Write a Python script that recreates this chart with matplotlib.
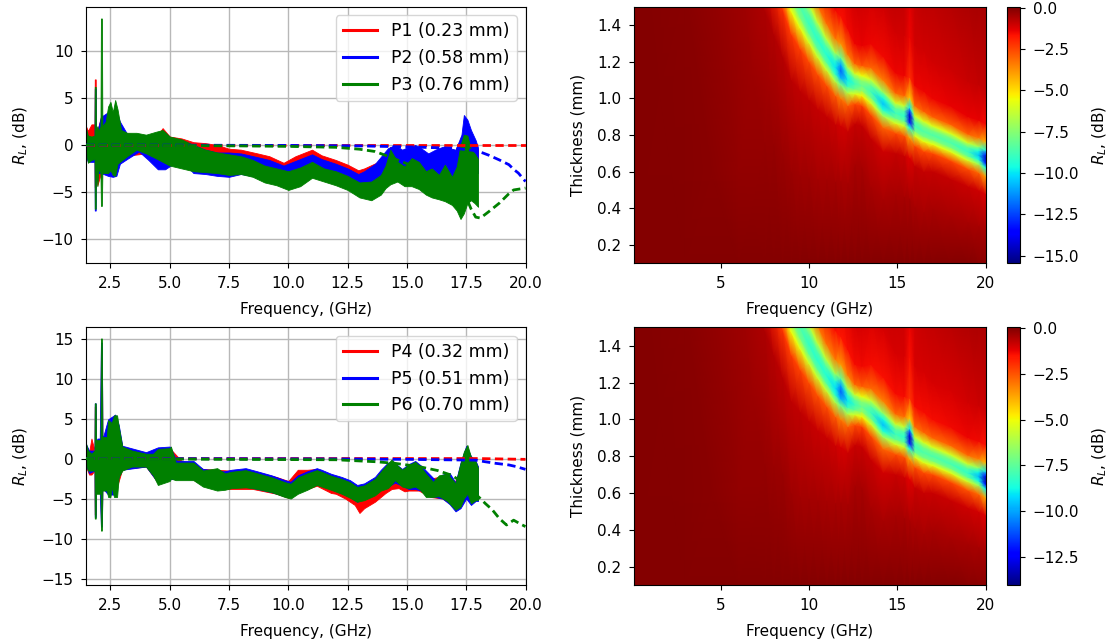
import numpy as np
import matplotlib
matplotlib.use("Agg")
import matplotlib.pyplot as plt
from matplotlib.lines import Line2D

plt.rcParams['font.family'] = ['DejaVu Sans']
plt.rcParams['font.size'] = 11
plt.rcParams['xtick.major.pad'] = 5.5
plt.rcParams['ytick.major.pad'] = 5.5
plt.rcParams['axes.labelpad'] = 8.3

# ---------------- measured RL, noise envelope (upper / lower edge), dB ----------------
# top panel
p1_f = [1.47,1.55,1.7,1.83,1.84,1.88,1.89,1.95,2.1,2.4,2.8,3.0,4.0,4.5,4.7,5.0,5.5,6.0,6.5,7.0,
        7.5,8.0,8.7,9.2,9.8,10.3,11.0,11.4,12.0,12.5,12.95,13.2,13.8,14.1,14.3,14.6,15.0,16.0,17.0,17.4,17.7,18.0]
p1_hi = [2.0,1.5,2.2,2.2,7.0,7.0,2.0,1.5,3.0,3.0,3.0,1.3,1.0,1.1,1.8,0.9,0.7,0.3,0.2,0.0,
         -0.4,-0.5,-0.9,-1.2,-1.9,-1.2,-0.5,-1.1,-1.6,-2.1,-2.7,-2.5,-1.8,-0.9,-0.2,-0.6,-0.8,-1.0,-1.0,1.5,0.5,-0.5]
p1_lo = [-0.5,-1.5,-1.4,-1.4,-4.5,-4.5,-2.0,-4.3,-3.0,-3.0,-2.0,-1.2,-0.9,-1.0,-1.2,-1.2,-1.5,-1.6,-1.5,-1.7,
         -2.0,-2.1,-2.4,-2.8,-3.2,-2.8,-2.2,-2.5,-3.0,-3.5,-4.0,-4.0,-3.3,-2.6,-2.2,-2.4,-2.8,-3.0,-3.2,-4.0,-3.0,-3.0]

p2_f = [1.47,1.55,1.83,1.84,1.88,1.89,1.95,2.1,2.4,2.6,2.75,2.9,3.2,3.7,4.1,4.5,4.8,5.1,5.7,6.0,
        6.5,7.0,7.5,8.0,8.7,9.2,9.8,10.3,11.0,11.4,12.0,12.5,12.95,13.2,13.66,14.2,14.5,14.8,15.07,15.35,
        15.6,15.9,16.2,16.5,16.8,17.05,17.3,17.4,17.55,17.7,17.9,18.0]
p2_hi = [1.5,0.8,0.8,6.0,6.0,1.5,1.5,3.0,3.5,3.5,3.5,2.5,1.2,1.0,1.0,1.2,1.3,0.6,0.3,0.0,
         -0.5,-0.8,-0.8,-0.9,-1.3,-1.6,-2.2,-1.7,-1.0,-1.5,-2.0,-2.5,-3.1,-2.8,-2.0,-0.35,0.0,-0.5,-0.2,0.0,
         -0.35,-0.9,-0.5,-0.2,-0.35,-0.5,1.1,3.2,2.7,1.6,0.5,-0.3]
p2_lo = [-1.2,-1.8,-1.8,-7.0,-7.0,-2.0,-3.0,-3.0,-3.3,-3.4,-3.3,-2.0,-1.5,-0.7,-1.6,-2.6,-2.6,-2.1,-2.2,-3.0,
         -3.1,-3.3,-3.4,-3.1,-3.4,-3.6,-4.0,-3.8,-3.0,-3.3,-3.8,-4.2,-4.6,-4.6,-4.0,-3.0,-2.8,-3.0,-3.0,-3.2,
         -3.4,-3.4,-3.6,-3.9,-3.9,-4.0,-4.5,-4.5,-4.0,-3.5,-3.0,-3.0]

p3_f = [1.47,1.55,1.7,1.83,1.84,1.88,1.89,1.95,2.0,2.08,2.1,2.14,2.16,2.3,2.4,2.5,2.6,2.7,2.8,2.95,
        3.2,3.6,4.0,4.4,4.7,5.0,5.5,6.0,6.5,7.0,7.5,8.0,8.5,9.0,9.5,10.0,10.5,11.0,11.5,12.0,
        12.5,13.0,13.5,13.9,14.1,14.3,14.6,14.9,15.2,15.5,15.8,16.05,16.35,16.6,16.9,17.1,17.26,17.4,17.55,17.7,
        17.85,18.0]
p3_hi = [1.8,1.0,0.9,1.0,6.2,6.2,1.5,2.0,1.5,2.0,13.5,13.5,2.0,2.5,4.1,4.6,3.5,4.8,3.8,1.6,
         1.3,1.3,1.1,1.4,1.6,0.9,0.6,0.0,-0.5,-0.8,-1.0,-1.2,-1.6,-2.2,-2.5,-2.8,-2.4,-1.8,-2.5,-2.8,
         -3.3,-4.0,-3.9,-3.2,-2.2,-0.5,-1.8,-2.3,-1.4,-1.8,-2.8,-2.5,-3.2,-2.1,-3.4,-2.3,0.0,1.1,1.0,-0.5,
         -0.9,-1.5]
p3_lo = [-0.6,-1.9,-1.6,-1.5,-6.8,-6.8,-2.0,-4.4,-2.5,-3.0,-6.5,-6.5,-3.0,-3.0,-3.0,-2.7,-3.2,-3.3,-2.0,-1.7,
         -1.2,-0.5,-0.9,-1.4,-1.8,-2.2,-2.5,-2.8,-2.9,-3.0,-3.2,-3.1,-3.4,-4.0,-4.3,-4.8,-4.4,-3.5,-3.9,-4.3,
         -4.8,-5.6,-5.9,-5.3,-4.6,-4.2,-3.9,-4.4,-4.4,-4.7,-5.3,-5.6,-5.8,-6.0,-6.4,-7.0,-7.9,-7.3,-6.2,-5.9,
         -6.2,-6.6]

# bottom panel
p4_f = [1.47,1.6,1.7,1.83,1.84,1.88,1.89,1.95,2.08,2.1,2.14,2.16,2.2,2.7,3.0,4.0,4.5,5.0,5.5,5.9,
        6.4,7.5,8.5,9.5,10.0,10.4,10.8,11.2,11.8,12.0,12.4,12.8,13.0,13.2,13.65,14.1,14.36,14.65,14.9,15.07,
        15.5,16.0,16.5,17.0,17.5,18.0]
p4_hi = [1.5,0.8,2.5,1.0,6.5,6.5,2.0,2.2,2.2,14.0,14.0,2.5,2.5,5.0,1.5,0.7,1.2,1.3,-0.3,-0.6,
         -1.3,-1.5,-1.6,-2.3,-2.8,-1.4,-1.4,-1.3,-2.2,-2.4,-2.9,-3.5,-4.0,-3.8,-3.2,-2.0,-1.6,-1.8,-2.0,-2.0,
         -1.8,-2.5,-2.2,-3.0,0.0,-1.5]
p4_lo = [-1.0,-2.0,-2.0,-1.5,-7.0,-7.0,-2.0,-4.0,-4.0,-8.0,-8.0,-3.5,-3.5,-4.3,-1.3,-1.0,-3.0,-2.5,-2.5,-2.5,
         -3.3,-3.8,-3.8,-4.4,-4.9,-4.0,-3.8,-3.4,-4.3,-4.4,-5.0,-5.8,-6.8,-6.2,-5.4,-4.3,-3.8,-3.7,-4.1,-4.0,
         -4.0,-4.8,-5.0,-6.0,-5.0,-5.0]

p5_f = [1.47,1.6,1.83,1.84,1.88,1.89,1.95,2.05,2.1,2.14,2.16,2.2,2.4,2.7,2.85,3.0,4.0,4.5,5.0,5.3,
        6.0,6.4,7.3,7.6,8.2,8.7,9.3,9.85,10.1,10.4,10.8,11.2,11.4,11.8,12.25,12.6,12.9,13.2,13.65,13.9,
        14.2,14.5,14.8,15.07,15.35,15.6,15.9,16.2,16.5,16.8,17.05,17.26,17.5,17.7,17.9,18.0]
p5_hi = [1.8,1.0,1.0,6.9,6.9,2.0,2.5,2.5,14.5,14.5,2.8,2.8,4.9,5.5,4.2,1.6,0.8,1.4,1.5,-0.3,
         -0.3,-1.3,-1.6,-1.4,-1.2,-1.6,-2.1,-2.7,-2.9,-2.1,-1.6,-1.2,-1.4,-1.9,-2.3,-2.7,-3.3,-3.1,-2.3,-1.4,
         -0.5,-0.6,-1.3,-0.7,-0.3,-0.9,-1.8,-2.7,-2.0,-1.8,-3.0,-0.5,1.6,0.3,-0.3,-1.0]
p5_lo = [-0.8,-1.8,-1.5,-7.3,-7.3,-2.0,-4.2,-4.2,-8.5,-8.5,-3.8,-3.8,-4.5,-4.5,-2.2,-1.4,-1.0,-3.0,-2.6,-2.5,
         -2.6,-3.3,-3.7,-3.3,-3.5,-3.8,-4.2,-4.7,-4.8,-4.2,-3.7,-3.2,-3.3,-3.8,-4.3,-4.8,-5.4,-5.0,-4.4,-3.8,
         -3.5,-3.0,-3.4,-3.8,-3.8,-4.0,-4.6,-4.8,-5.0,-5.7,-6.6,-6.2,-5.0,-5.8,-5.3,-5.3]

p6_f = [1.47,1.55,1.7,1.83,1.84,1.88,1.89,1.92,2.05,2.08,2.1,2.14,2.16,2.35,2.4,2.5,2.55,2.65,2.78,2.85,
        3.0,3.4,4.0,4.3,4.5,5.0,5.05,5.25,6.0,6.4,7.0,7.33,7.6,8.2,8.7,9.3,9.85,10.1,10.4,10.8,
        11.2,11.4,11.8,12.25,12.6,12.9,13.2,13.65,13.9,14.2,14.36,14.5,14.8,15.07,15.35,15.56,15.8,16.1,16.35,16.7,
        17.05,17.26,17.4,17.55,17.7,17.9,18.0]
p6_hi = [1.9,1.0,0.6,1.0,6.9,6.9,2.3,2.3,2.3,2.3,15.0,15.0,2.7,2.7,4.8,4.6,4.4,5.4,5.4,4.0,
         1.5,1.0,0.6,0.6,1.2,1.3,1.5,-0.5,-0.5,-1.5,-1.2,-1.85,-1.65,-1.45,-1.85,-2.35,-2.95,-3.15,-2.35,-1.85,
         -1.45,-1.65,-2.15,-2.55,-2.95,-3.55,-3.35,-2.55,-1.65,-0.6,-0.1,-0.6,-1.4,-0.8,-0.4,-1.0,-1.9,-2.9,-2.1,-1.9,
         -3.1,-0.6,0.85,1.7,0.2,-0.4,-1.2]
p6_lo = [-0.5,-1.5,-1.5,-1.5,-7.5,-7.5,-4.4,-4.4,-4.4,-4.0,-9.0,-9.0,-4.0,-4.0,-4.8,-4.8,-3.5,-4.8,-4.8,-2.3,
         -1.5,-1.0,-1.0,-2.1,-3.3,-2.8,-2.5,-2.7,-2.7,-3.5,-4.0,-3.9,-3.7,-3.6,-3.8,-4.2,-4.8,-5.0,-4.4,-3.9,
         -3.3,-3.5,-3.9,-4.4,-4.9,-5.4,-5.2,-4.6,-4.0,-3.7,-3.2,-2.7,-3.5,-3.7,-3.5,-3.9,-4.8,-4.8,-4.7,-5.3,
         -6.4,-6.0,-5.0,-4.4,-5.6,-5.2,-5.2]

# ---------------- simulated RL (dashed), dB ----------------
s1_f = [1.47, 20.0]
s1 = [0.0, 0.0]
s2_f = [1.47, 10.0, 13.0, 15.0, 17.0, 17.9, 18.2, 18.46, 18.9, 19.3, 19.5, 19.7, 20.0]
s2 = [0.0, -0.05, -0.1, -0.2, -0.35, -0.6, -0.85, -1.1, -1.6, -2.1, -2.6, -3.0, -3.9]
s3_f = [1.47, 8.0, 10.0, 12.0, 13.0, 13.66, 14.2, 14.6, 15.0, 16.0, 17.0, 17.55, 17.7, 17.9, 18.1,
        18.46, 18.9, 19.3, 19.5, 20.0]
s3 = [0.0, -0.1, -0.15, -0.25, -0.45, -0.7, -1.2, -1.6, -2.0, -3.2, -4.8, -5.9, -6.8, -7.7, -7.8,
      -7.1, -6.2, -5.2, -4.8, -4.6]
s4_f = [1.47, 18.0, 20.0]
s4 = [0.0, 0.0, -0.1]
s5_f = [1.47, 12.0, 15.0, 17.9, 18.3, 18.75, 19.3, 19.6, 20.0]
s5 = [0.0, -0.05, -0.1, -0.2, -0.4, -0.6, -0.8, -1.0, -1.35]
s6_f = [1.47, 7.3, 12.0, 13.7, 14.5, 15.5, 16.3, 16.9, 17.5, 17.8, 18.1, 18.3, 18.6, 18.9, 19.2,
        19.5, 19.8, 20.0]
s6 = [0.0, -0.1, -0.15, -0.4, -0.6, -1.0, -1.5, -2.1, -3.3, -4.2, -5.0, -5.6, -6.4, -7.5, -8.3,
      -7.7, -8.2, -8.5]

labels_top = ["P1 (0.23 mm)", "P2 (0.58 mm)", "P3 (0.76 mm)"]
labels_bot = ["P4 (0.32 mm)", "P5 (0.51 mm)", "P6 (0.70 mm)"]

# ---------------- RL map (thickness x frequency) read along the absorption valley ----------------
heat_f   = [0.1, 3.0, 6.0, 7.5, 8.0, 8.5, 9.0, 9.5, 10.0, 10.5, 11.0, 11.5, 11.8, 12.2, 12.6, 13.0,
            13.5, 14.2, 14.9, 15.4, 15.7, 16.0, 16.5, 17.0, 18.0, 19.0, 19.6, 20.0]
ridge_mm = [6.0, 4.4, 3.0, 2.2, 1.95, 1.75, 1.6, 1.5, 1.41, 1.32, 1.24, 1.17, 1.15, 1.10, 1.08, 1.07,
            1.04, 0.97, 0.92, 0.905, 0.895, 0.85, 0.82, 0.80, 0.76, 0.71, 0.69, 0.67]
ridge_w  = [0.45, 0.35, 0.3, 0.18, 0.15, 0.13, 0.125, 0.115, 0.105, 0.095, 0.085, 0.078, 0.075, 0.07, 0.055, 0.055,
            0.065, 0.065, 0.055, 0.055, 0.055, 0.055, 0.055, 0.05, 0.05, 0.048, 0.048, 0.048]
rl1_ridge = [-1.0, -2.0, -4.0, -6.0, -7.5, -8.0, -8.3, -8.5, -9.0, -9.2, -9.3, -10.0, -12.0, -9.8, -8.8, -8.0,
             -8.8, -10.5, -8.8, -9.2, -14.5, -8.8, -8.5, -8.5, -8.6, -9.0, -10.5, -14.5]
rl2_ridge = [-1.0, -2.0, -3.7, -5.5, -6.9, -7.3, -7.6, -7.8, -8.3, -8.4, -8.5, -9.2, -11.0, -9.0, -8.1, -7.3,
             -8.1, -9.6, -8.1, -8.4, -13.2, -8.1, -7.8, -7.8, -7.9, -8.3, -9.7, -13.5]
rl_below = [-0.05, -0.1, -0.2, -0.27, -0.3, -0.33, -0.36, -0.4, -0.42, -0.44, -0.46, -0.48, -0.5, -0.5, -0.5, -0.5,
            -0.5, -0.5, -0.5, -0.5, -0.55, -0.5, -0.5, -0.5, -0.5, -0.5, -0.5, -0.5]
rl_above = [-0.2, -0.3, -0.5, -0.7, -0.8, -0.9, -1.0, -1.05, -1.05, -1.05, -1.05, -1.05, -1.05, -1.05, -1.05, -1.05,
            -1.05, -1.05, -1.05, -1.05, -1.45, -1.05, -1.05, -1.05, -1.0, -0.95, -0.9, -0.9]
rl_floor = [-0.02, -0.025, -0.035, -0.04, -0.045, -0.05, -0.05, -0.05, -0.05, -0.05, -0.05, -0.05, -0.05, -0.05,
            -0.05, -0.05, -0.05, -0.05, -0.05, -0.05, -0.05, -0.05, -0.05, -0.05, -0.06, -0.07, -0.08, -0.08]
rl_ceil  = [-0.1, -0.15, -0.3, -0.45, -0.5, -0.6, -0.7, -0.8, -0.85, -0.9, -0.9, -0.9, -0.9, -0.9, -0.9, -0.9,
            -0.9, -0.9, -0.9, -0.95, -1.3, -0.95, -0.85, -0.8, -0.7, -0.6, -0.55, -0.55]
dip_k    = [-8, -4, -2, -1, -0.5, 0, 0.5, 1, 2, 4, 8]          # offset from valley, in widths
dip_frac = [0.0, 0.05, 0.25, 0.65, 0.9, 1.0, 0.9, 0.65, 0.25, 0.05, 0.0]

# ---------------- figure ----------------
W, H = 1113, 644
fig = plt.figure(figsize=(W / 100, H / 100), dpi=100)


def add_ax(x0, y0, x1, y1):
    return fig.add_axes([x0 / W, 1 - y1 / H, (x1 - x0) / W, (y1 - y0) / H])


def line_panel(ax, series, sims, labels, ylim, yticks):
    cols = ['red', 'blue', 'green']
    for (f, hi, lo), (sf, sv), c in zip(series, sims, cols):
        ax.fill_between(f, lo, hi, color=c, lw=0.6, edgecolor=c, zorder=2)
        ax.plot(sf, sv, '--', color=c, lw=2, dashes=(3, 1.6), zorder=3)
    ax.set_xlim(1.47, 20)
    ax.set_ylim(*ylim)
    ax.set_xticks([2.5, 5.0, 7.5, 10.0, 12.5, 15.0, 17.5, 20.0])
    ax.set_yticks(yticks)
    ax.grid(True, color='#b8b8b8', lw=1.0)
    ax.set_axisbelow(True)
    ax.set_xlabel("Frequency, (GHz)")
    ax.set_ylabel("$R_L$, (dB)")
    handles = [Line2D([], [], color=c, lw=2.2) for c in cols]
    ax.legend(handles, labels, loc='upper right', fontsize=12.5)


ax1 = add_ax(86, 6.7, 525.5, 263.3)
line_panel(ax1, [(p1_f, p1_hi, p1_lo), (p2_f, p2_hi, p2_lo), (p3_f, p3_hi, p3_lo)],
           [(s1_f, s1), (s2_f, s2), (s3_f, s3)], labels_top, (-12.63, 14.76), [-10, -5, 0, 5, 10])
ax2 = add_ax(86, 327.3, 525.5, 585)
line_panel(ax2, [(p4_f, p4_hi, p4_lo), (p5_f, p5_hi, p5_lo), (p6_f, p6_hi, p6_lo)],
           [(s4_f, s4), (s5_f, s5), (s6_f, s6)], labels_bot, (-15.8, 16.4), [-15, -10, -5, 0, 5, 10, 15])


def build_map(ridge_db):
    nc = len(heat_f)
    nr = len(dip_k) + 2
    X = np.tile(np.asarray(heat_f, float), (nr, 1))
    Y = np.zeros((nr, nc))
    C = np.zeros((nr, nc))
    for j in range(nc):
        Y[0, j] = 0.1
        C[0, j] = rl_floor[j]
        for i, (k, fr) in enumerate(zip(dip_k, dip_frac)):
            bg = rl_below[j] if k < 0 else rl_above[j]
            Y[i + 1, j] = ridge_mm[j] + k * ridge_w[j]
            C[i + 1, j] = bg + fr * (ridge_db[j] - bg)
        Y[-1, j] = max(Y[-2, j] + 0.05, 1.5)
        C[-1, j] = rl_ceil[j]
    return X, Y, C


def map_panel(ax, cax, ridge_db, vmin, cticks):
    X, Y, C = build_map(ridge_db)
    m = ax.pcolormesh(X, Y, C, shading='gouraud', cmap='jet', vmin=vmin, vmax=0.05)
    ax.set_xlim(0.1, 20)
    ax.set_ylim(0.1, 1.5)
    ax.set_xticks([5, 10, 15, 20])
    ax.set_yticks([0.2, 0.4, 0.6, 0.8, 1.0, 1.2, 1.4])
    ax.set_xlabel("Frequency (GHz)")
    ax.set_ylabel("Thickness (mm)")
    cb = fig.colorbar(m, cax=cax)
    cb.set_ticks(cticks)
    cb.set_label("$R_L$, (dB)")


hm1 = add_ax(634, 6.7, 985.8, 263.3)
cb1 = add_ax(1007.3, 6.7, 1020.3, 263.3)
map_panel(hm1, cb1, rl1_ridge, -15.45, [0.0, -2.5, -5.0, -7.5, -10.0, -12.5, -15.0])
hm2 = add_ax(634, 327.3, 985.8, 585)
cb2 = add_ax(1007.3, 327.3, 1020.3, 585)
map_panel(hm2, cb2, rl2_ridge, -14.05, [0.0, -2.5, -5.0, -7.5, -10.0, -12.5])

fig.savefig("out.png", dpi=100)
